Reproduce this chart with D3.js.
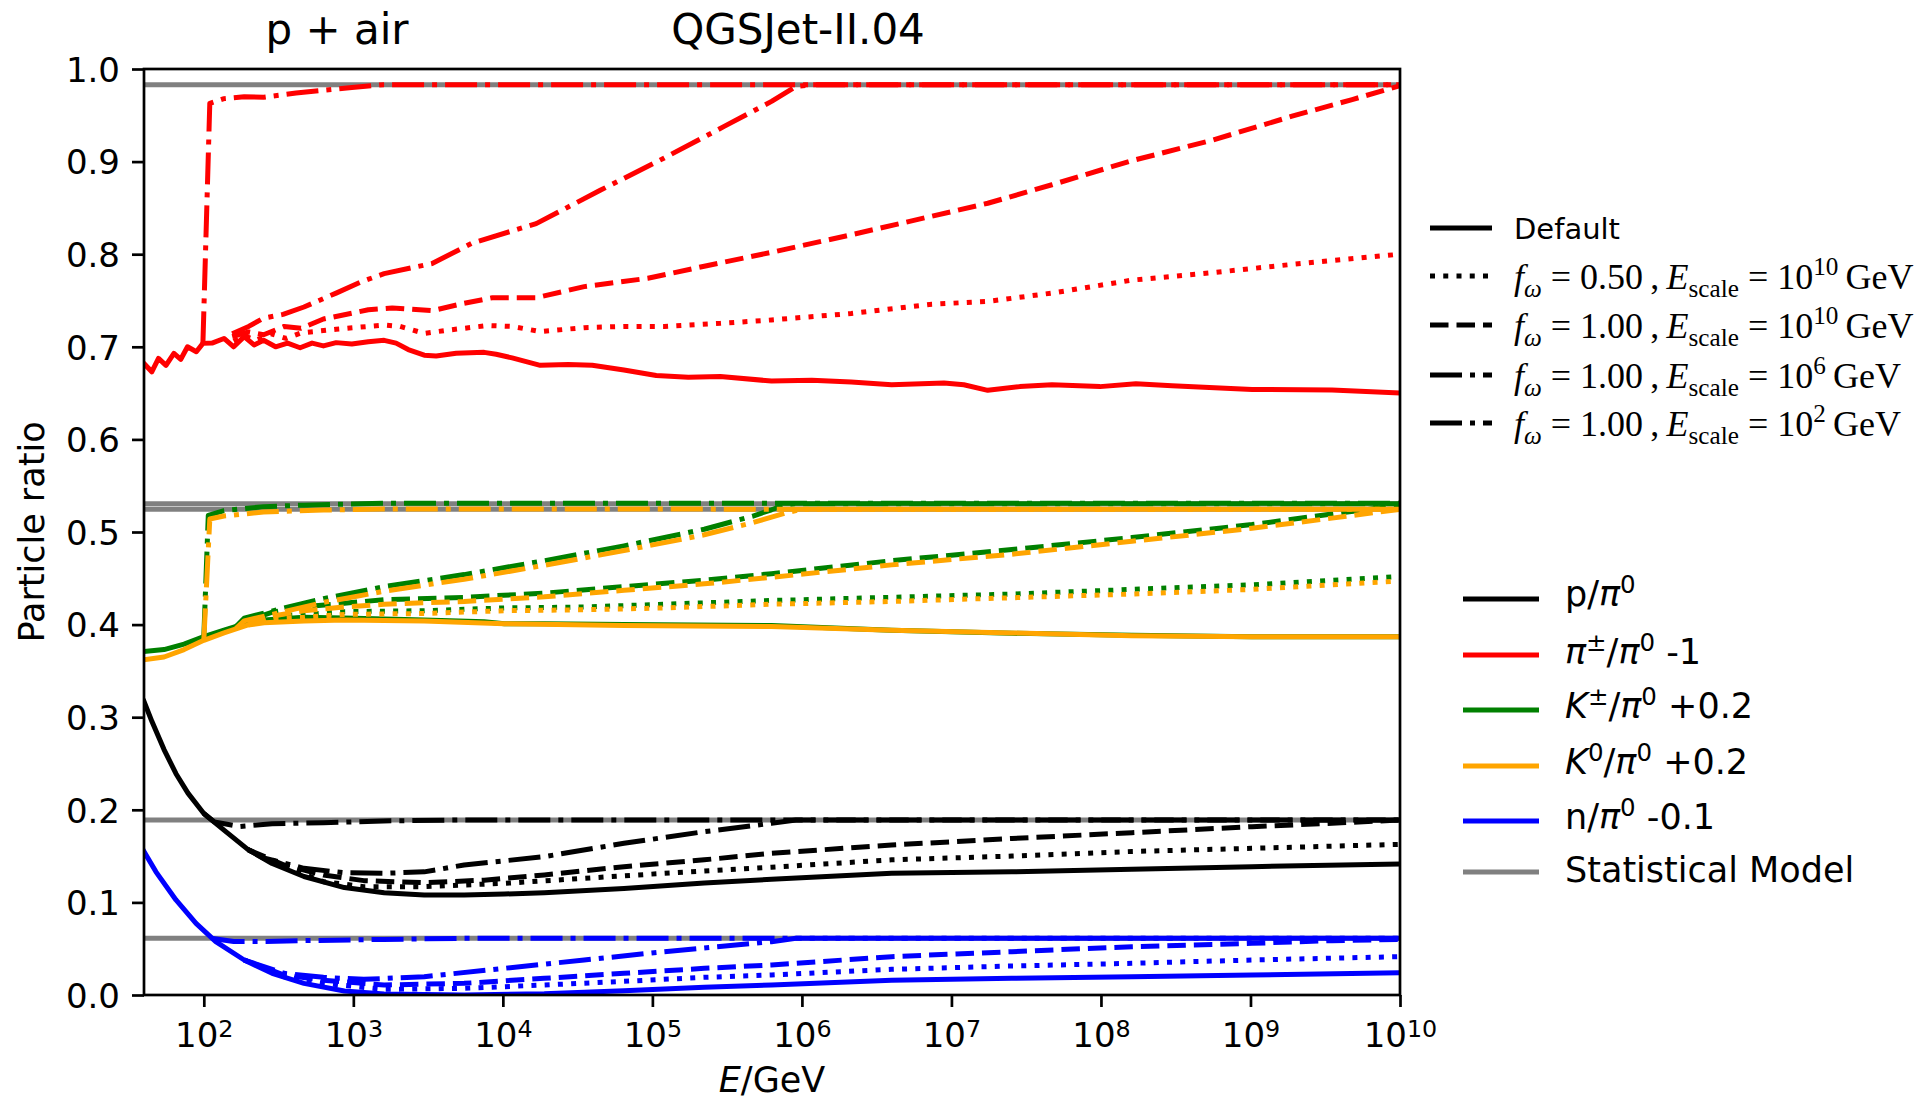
<!DOCTYPE html>
<html>
<head>
<meta charset="utf-8">
<script src="https://cdn.jsdelivr.net/npm/d3@7"></script>
<style>
  html, body { margin: 0; padding: 0; background: #fff; }
  svg { display: block; }
  text { white-space: pre; }
</style>
</head>
<body>
<svg id="chart" width="1917" height="1101"></svg>
<script>
// Particle ratios vs. primary energy for p + air (QGSJet-II.04).
// Each series is a list of [log10(E/GeV), ratio] points.

// p / pi0
const pDefault = [[1.6,0.317],[1.654,0.295],[1.734,0.265],[1.814,0.239],[1.894,0.218],[2.0,0.196],[2.135,0.178],[2.296,0.157],[2.457,0.142],[2.67,0.128],[2.94,0.116],[3.206,0.1105],[3.474,0.108],[3.741,0.108],[4.01,0.109],[4.277,0.1105],[4.81,0.115],[5.347,0.121],[5.797,0.125],[6.6,0.1314],[7.404,0.133],[8.207,0.1357],[9.01,0.1386],[10,0.1415]];
const pFw050 = [[2.296,0.157],[2.457,0.143],[2.537,0.139],[2.8,0.1224],[3.07,0.117],[3.474,0.117],[4.01,0.1206],[4.544,0.126],[5.08,0.1314],[5.797,0.138],[6.6,0.146],[7.404,0.150],[8.207,0.155],[9.01,0.1584],[10,0.1627]];
const pFw100 = [[2.296,0.157],[2.537,0.1404],[2.8,0.1296],[3.07,0.1235],[3.474,0.1213],[3.875,0.124],[4.277,0.1296],[4.81,0.1386],[5.347,0.146],[5.797,0.153],[6.6,0.162],[7.404,0.169],[8.207,0.1753],[9.01,0.1818],[9.545,0.1854],[10,0.189]];
const pE6 = [[2.296,0.157],[2.4,0.148],[2.67,0.1368],[2.94,0.132],[3.206,0.1314],[3.474,0.133],[3.741,0.1404],[4.277,0.1494],[4.81,0.1638],[5.347,0.1764],[5.797,0.1854],[5.96,0.189],[10,0.189]];
const pE2 = [[2.0,0.196],[2.07,0.187],[2.24,0.182],[2.457,0.185],[2.8,0.186],[3.2,0.188],[3.74,0.189],[10,0.189]];

// pi+- / pi0 - 1
const piDefault = [[1.6,0.682],[1.652,0.673],[1.697,0.6875],[1.747,0.680],[1.80,0.693],[1.846,0.6865],[1.891,0.700],[1.95,0.6947],[1.994,0.7037],[2.055,0.704],[2.135,0.709],[2.20,0.700],[2.27,0.711],[2.336,0.702],[2.40,0.707],[2.48,0.700],[2.56,0.704],[2.644,0.699],[2.724,0.704],[2.80,0.701],[2.885,0.7045],[2.99,0.703],[3.10,0.7055],[3.206,0.707],[3.286,0.704],[3.367,0.697],[3.474,0.691],[3.554,0.690],[3.688,0.693],[3.875,0.694],[3.955,0.692],[4.062,0.688],[4.25,0.680],[4.437,0.681],[4.598,0.680],[4.81,0.675],[5.026,0.669],[5.24,0.667],[5.454,0.668],[5.797,0.663],[6.066,0.664],[6.33,0.662],[6.6,0.659],[6.95,0.661],[7.083,0.659],[7.243,0.653],[7.457,0.657],[7.672,0.659],[7.993,0.657],[8.234,0.660],[8.475,0.658],[9.01,0.654],[9.545,0.6533],[10,0.650]];
const piFw050 = [[2.2,0.706],[2.27,0.712],[2.35,0.707],[2.45,0.714],[2.55,0.709],[2.65,0.715],[2.885,0.719],[3.206,0.7235],[3.313,0.722],[3.474,0.7145],[3.634,0.718],[3.90,0.723],[4.062,0.722],[4.25,0.7164],[4.544,0.7207],[4.81,0.722],[5.08,0.722],[5.454,0.7253],[5.797,0.729],[6.33,0.736],[6.869,0.746],[7.243,0.749],[7.672,0.758],[8.207,0.772],[8.742,0.780],[9.278,0.789],[10,0.800]];
const piFw100 = [[2.19,0.711],[2.3,0.716],[2.4,0.713],[2.537,0.722],[2.65,0.720],[2.80,0.730],[3.10,0.740],[3.26,0.742],[3.527,0.739],[3.741,0.747],[3.93,0.753],[4.223,0.753],[4.544,0.765],[4.97,0.774],[5.347,0.787],[5.797,0.802],[6.33,0.821],[6.869,0.841],[7.243,0.855],[7.672,0.875],[8.207,0.901],[8.742,0.923],[9.278,0.949],[9.68,0.967],[10,0.982]];
const piE6 = [[2.19,0.714],[2.3,0.722],[2.40,0.731],[2.53,0.735],[2.67,0.743],[2.885,0.758],[3.05,0.770],[3.206,0.779],[3.527,0.790],[3.795,0.812],[4.223,0.833],[4.651,0.869],[5.08,0.904],[5.48,0.938],[5.797,0.965],[5.96,0.981],[6.066,0.983],[10,0.983]];
const piE2 = [[1.994,0.7037],[2.04,0.963],[2.135,0.968],[2.27,0.970],[2.40,0.9695],[2.617,0.974],[2.80,0.977],[2.99,0.980],[3.2,0.983],[10,0.983]];

// K+- / pi0 + 0.2
const kcDefault = [[1.6,0.371],[1.734,0.373],[1.868,0.379],[2.0,0.387],[2.135,0.394],[2.216,0.398],[2.296,0.4028],[2.403,0.405],[2.67,0.408],[2.94,0.407],[3.206,0.406],[3.474,0.405],[3.875,0.403],[4.01,0.401],[4.277,0.401],[4.81,0.400],[5.797,0.399],[6.6,0.394],[7.404,0.3906],[8.207,0.3884],[9.01,0.387],[10,0.387]];
const kcFw050 = [[2.216,0.398],[2.403,0.409],[2.67,0.411],[2.94,0.414],[3.474,0.415],[4.01,0.418],[4.544,0.419],[5.08,0.422],[5.797,0.426],[6.6,0.4295],[7.404,0.433],[8.207,0.438],[9.01,0.443],[10,0.452]];
const kcFw100 = [[2.216,0.398],[2.3,0.405],[2.45,0.413],[2.67,0.4194],[2.94,0.423],[3.206,0.427],[3.741,0.4294],[4.277,0.434],[4.81,0.441],[5.347,0.448],[5.797,0.455],[6.6,0.469],[7.404,0.481],[8.207,0.494],[9.01,0.508],[9.545,0.5194],[10,0.529]];
const kcE6 = [[2.216,0.398],[2.27,0.407],[2.537,0.418],[2.8,0.428],[3.206,0.441],[3.741,0.454],[4.277,0.469],[4.81,0.485],[5.347,0.503],[5.668,0.517],[5.797,0.524],[5.88,0.529],[5.95,0.5305],[10,0.5305]];
const kcE2 = [[2.0,0.387],[2.03,0.518],[2.135,0.523],[2.4,0.5274],[2.67,0.529],[3.2,0.531],[10,0.531]];

// K0 / pi0 + 0.2
const k0Default = [[1.6,0.362],[1.734,0.365],[1.868,0.373],[2.0,0.383],[2.135,0.391],[2.296,0.3996],[2.403,0.402],[2.67,0.404],[2.94,0.405],[3.474,0.404],[4.01,0.401],[4.81,0.399],[5.797,0.398],[6.6,0.394],[7.404,0.391],[8.207,0.388],[9.01,0.387],[10,0.387]];
const k0Fw050 = [[2.296,0.3996],[2.403,0.406],[2.67,0.408],[2.94,0.411],[3.474,0.412],[4.01,0.415],[4.544,0.416],[5.08,0.418],[5.797,0.422],[6.6,0.425],[7.404,0.429],[8.207,0.433],[9.01,0.438],[10,0.447]];
const k0Fw100 = [[2.296,0.3996],[2.45,0.409],[2.67,0.415],[2.94,0.419],[3.206,0.422],[3.741,0.425],[4.277,0.430],[4.81,0.437],[5.347,0.444],[5.797,0.451],[6.6,0.4645],[7.404,0.476],[8.207,0.490],[9.01,0.504],[9.545,0.515],[10,0.5245]];
const k0E6 = [[2.216,0.396],[2.27,0.404],[2.537,0.414],[2.8,0.424],[3.206,0.436],[3.741,0.449],[4.277,0.464],[4.81,0.480],[5.347,0.497],[5.668,0.510],[5.797,0.516],[5.9,0.521],[6.0,0.5245],[10,0.5245]];
const k0E2 = [[2.0,0.383],[2.04,0.514],[2.135,0.5173],[2.4,0.5216],[2.8,0.5237],[3.2,0.5248],[10,0.5245]];

// n / pi0 - 0.1
const nDefault = [[1.6,0.155],[1.68,0.133],[1.814,0.1026],[1.948,0.0774],[2.08,0.0576],[2.27,0.0378],[2.457,0.0234],[2.67,0.0126],[2.94,0.0043],[3.206,0.0011],[3.741,0.0],[4.277,0.0014],[4.81,0.0047],[5.347,0.0083],[5.797,0.0108],[6.6,0.016],[7.404,0.018],[8.207,0.0198],[9.01,0.0216],[10,0.024]];
const nFw050 = [[2.27,0.0378],[2.537,0.0198],[2.8,0.0126],[3.206,0.0061],[3.741,0.0072],[4.277,0.0108],[4.81,0.0148],[5.347,0.0191],[5.797,0.0216],[6.6,0.0277],[7.404,0.0313],[8.207,0.0342],[9.01,0.0378],[10,0.0414]];
const nFw100 = [[2.27,0.0378],[2.537,0.0216],[2.8,0.016],[3.206,0.0108],[3.741,0.0126],[4.277,0.018],[4.81,0.0234],[5.347,0.0288],[5.797,0.0324],[6.6,0.0414],[7.404,0.0468],[8.207,0.0522],[9.01,0.0558],[9.545,0.0587],[10,0.060]];
const nE6 = [[2.27,0.0378],[2.537,0.0234],[2.8,0.0191],[3.07,0.0169],[3.474,0.0198],[4.01,0.0288],[4.544,0.0378],[5.08,0.0468],[5.797,0.0576],[5.96,0.0612],[10,0.0612]];
const nE2 = [[2.06,0.061],[2.2,0.0578],[2.4,0.0578],[2.67,0.0587],[3.2,0.060],[3.74,0.0612],[10,0.0612]];

// Statistical-model expectation for each ratio (same order as the species)
const statModel = [0.189, 0.983, 0.5305, 0.5245, 0.0612];

const speciesColors = ['#000000', '#ff0000', '#008000', '#ffa500', '#0000ff'];
const xTickExponents = [2, 3, 4, 5, 6, 7, 8, 9, 10];
const yTickValues = [0, 0.1, 0.2, 0.3, 0.4, 0.5, 0.6, 0.7, 0.8, 0.9, 1.0];

const species = [
  [pDefault, pFw050, pFw100, pE6, pE2],
  [piDefault, piFw050, piFw100, piE6, piE2],
  [kcDefault, kcFw050, kcFw100, kcE6, kcE2],
  [k0Default, k0Fw050, k0Fw100, k0E6, k0E2],
  [nDefault, nFw050, nFw100, nE6, nE2]
].map((curves, i) => ({ curves, color: speciesColors[i], stat: statModel[i] }));

// ---- styling ----
const SANS = "'DejaVu Sans', sans-serif";
const SERIF = "'Liberation Serif', 'DejaVu Serif', serif";
const LW = 5;
const dashPatterns = [null, '5,8.25', '18.5,8', '32,8,5,8', '32,8,5,8'];

const margin = { left: 144, right: 1400, top: 69, bottom: 995 };
const svg = d3.select('#chart');

const x = d3.scaleLog().domain([Math.pow(10, 1.6), 1e10]).range([margin.left, margin.right]);
const y = d3.scaleLinear().domain([0, 1]).range([margin.bottom, margin.top]);

svg.append('defs').append('clipPath').attr('id', 'plotClip')
  .append('rect')
  .attr('x', margin.left).attr('y', margin.top)
  .attr('width', margin.right - margin.left).attr('height', margin.bottom - margin.top);

const plot = svg.append('g').attr('clip-path', 'url(#plotClip)');

// statistical model references (underneath the curves)
plot.selectAll('line.stat').data(species).join('line')
  .attr('class', 'stat')
  .attr('x1', x.range()[0]).attr('x2', x.range()[1])
  .attr('y1', d => y(d.stat)).attr('y2', d => y(d.stat))
  .attr('stroke', '#808080').attr('stroke-width', LW);

const line = d3.line().x(d => x(Math.pow(10, d[0]))).y(d => y(d[1]));

species.forEach(sp => {
  sp.curves.forEach((c, k) => {
    plot.append('path')
      .datum(c)
      .attr('d', line)
      .attr('fill', 'none')
      .attr('stroke', sp.color)
      .attr('stroke-width', LW)
      .attr('stroke-linejoin', 'round')
      .attr('stroke-linecap', k === 0 ? 'square' : 'butt')
      .attr('stroke-dasharray', dashPatterns[k]);
  });
});

// ---- rich text helper (italics, sub/superscripts) ----
function rich(textSel, parts, fs, family) {
  let shift = 0;
  parts.forEach(p => {
    const script = p.s === 'sup' || p.s === 'sub';
    const target = p.s === 'sup' ? -(p.raise || 0.36) * fs : p.s === 'sub' ? (p.drop || 0.22) * fs : 0;
    textSel.append('tspan')
      .attr('dy', target - shift)
      .attr('font-size', script ? fs * 0.7 : fs)
      .attr('font-style', p.i ? 'italic' : 'normal')
      .attr('font-family', p.f || family)
      .text(p.t);
    shift = target;
  });
}

// ---- axes ----
const xAxis = d3.axisBottom(x)
  .tickValues(xTickExponents.map(e => Math.pow(10, e)))
  .tickSize(12).tickSizeOuter(0)
  .tickFormat('');
const gx = svg.append('g').attr('transform', `translate(0,${margin.bottom})`).call(xAxis);
gx.select('.domain').remove();
gx.selectAll('.tick line').attr('stroke', '#000').attr('stroke-width', 2.7);
gx.selectAll('.tick text').each(function (d) {
  const t = d3.select(this);
  const e = Math.round(Math.log10(d));
  t.text(null).attr('y', 52).attr('dy', null)
    .attr('text-anchor', 'middle').attr('fill', '#000');
  rich(t, [{ t: '10' }, { t: String(e), s: 'sup', raise: 0.3 }], 34, SANS);
});

const yAxis = d3.axisLeft(y)
  .tickValues(yTickValues)
  .tickSize(12).tickSizeOuter(0).tickPadding(12)
  .tickFormat(d3.format('.1f'));
const gy = svg.append('g').attr('transform', `translate(${margin.left},0)`).call(yAxis);
gy.select('.domain').remove();
gy.selectAll('.tick line').attr('stroke', '#000').attr('stroke-width', 2.7);
gy.selectAll('.tick text')
  .attr('font-family', SANS).attr('font-size', 34).attr('fill', '#000')
  .attr('dy', '0.36em');

// frame
svg.append('rect')
  .attr('x', margin.left).attr('y', margin.top)
  .attr('width', margin.right - margin.left).attr('height', margin.bottom - margin.top)
  .attr('fill', 'none').attr('stroke', '#000').attr('stroke-width', 2.7);

// axis labels
const xl = svg.append('text').attr('x', (margin.left + margin.right) / 2).attr('y', 1092)
  .attr('text-anchor', 'middle').attr('fill', '#000');
rich(xl, [{ t: 'E', i: 1 }, { t: '/GeV' }], 35, SANS);

svg.append('text')
  .attr('transform', `translate(44,${(margin.top + margin.bottom) / 2}) rotate(-90)`)
  .attr('text-anchor', 'middle')
  .attr('font-family', SANS).attr('font-size', 35).attr('fill', '#000')
  .text('Particle ratio');

// titles
svg.append('text').attr('x', 337).attr('y', 44).attr('text-anchor', 'middle')
  .attr('font-family', SANS).attr('font-size', 42).text('p + air');
svg.append('text').attr('x', 798).attr('y', 44).attr('text-anchor', 'middle')
  .attr('font-family', SANS).attr('font-size', 42).text('QGSJet-II.04');

// ---- legend: model variants (line styles) ----
const styleLegend = [
  { dash: dashPatterns[0], parts: [{ t: 'Default', f: SANS }], fs: 29, off: 11 },
  { dash: dashPatterns[1], parts: [{ t: 'f', i: 1 }, { t: 'ω', i: 1, s: 'sub' }, { t: ' = 0.50\u2009,\u2009' }, { t: 'E', i: 1 }, { t: 'scale', s: 'sub' }, { t: ' = 10' }, { t: '10', s: 'sup', raise: 0.4 }, { t: '\u2009GeV' }], fs: 36, off: 13 },
  { dash: dashPatterns[2], parts: [{ t: 'f', i: 1 }, { t: 'ω', i: 1, s: 'sub' }, { t: ' = 1.00\u2009,\u2009' }, { t: 'E', i: 1 }, { t: 'scale', s: 'sub' }, { t: ' = 10' }, { t: '10', s: 'sup', raise: 0.4 }, { t: '\u2009GeV' }], fs: 36, off: 13 },
  { dash: dashPatterns[3], parts: [{ t: 'f', i: 1 }, { t: 'ω', i: 1, s: 'sub' }, { t: ' = 1.00\u2009,\u2009' }, { t: 'E', i: 1 }, { t: 'scale', s: 'sub' }, { t: ' = 10' }, { t: '6', s: 'sup', raise: 0.4 }, { t: '\u2009GeV' }], fs: 36, off: 13 },
  { dash: dashPatterns[4], parts: [{ t: 'f', i: 1 }, { t: 'ω', i: 1, s: 'sub' }, { t: ' = 1.00\u2009,\u2009' }, { t: 'E', i: 1 }, { t: 'scale', s: 'sub' }, { t: ' = 10' }, { t: '2', s: 'sup', raise: 0.4 }, { t: '\u2009GeV' }], fs: 36, off: 13 }
];
const styleRowsY = [228, 276, 325, 375, 423];
styleLegend.forEach((r, i) => {
  const yy = styleRowsY[i];
  svg.append('line').attr('x1', 1430).attr('x2', 1492).attr('y1', yy).attr('y2', yy)
    .attr('stroke', '#000').attr('stroke-width', LW).attr('stroke-dasharray', r.dash);
  const t = svg.append('text').attr('x', 1514).attr('y', yy + r.off).attr('fill', '#000');
  rich(t, r.parts, r.fs, SERIF);
});

// ---- legend: species ----
const speciesLegend = [
  { color: speciesColors[0], parts: [{ t: 'p/' }, { t: 'π', i: 1 }, { t: '0', s: 'sup' }], off: 7 },
  { color: speciesColors[1], parts: [{ t: 'π', i: 1 }, { t: '±', s: 'sup' }, { t: '/' }, { t: 'π', i: 1 }, { t: '0', s: 'sup' }, { t: ' -1' }], off: 9 },
  { color: speciesColors[2], parts: [{ t: 'K', i: 1 }, { t: '±', s: 'sup' }, { t: '/' }, { t: 'π', i: 1 }, { t: '0', s: 'sup' }, { t: ' +0.2' }], off: 8 },
  { color: speciesColors[3], parts: [{ t: 'K', i: 1 }, { t: '0', s: 'sup' }, { t: '/' }, { t: 'π', i: 1 }, { t: '0', s: 'sup' }, { t: ' +0.2' }], off: 8 },
  { color: speciesColors[4], parts: [{ t: 'n/' }, { t: 'π', i: 1 }, { t: '0', s: 'sup' }, { t: ' -0.1' }], off: 8 },
  { color: '#808080', parts: [{ t: 'Statistical Model' }], off: 10 }
];
const speciesRowsY = [599, 655, 710, 766, 821, 872];
speciesLegend.forEach((r, i) => {
  const yy = speciesRowsY[i];
  svg.append('line').attr('x1', 1463).attr('x2', 1539).attr('y1', yy).attr('y2', yy)
    .attr('stroke', r.color).attr('stroke-width', LW);
  const t = svg.append('text').attr('x', 1565).attr('y', yy + r.off).attr('fill', '#000');
  rich(t, r.parts, 35, SANS);
});
</script>
</body>
</html>
